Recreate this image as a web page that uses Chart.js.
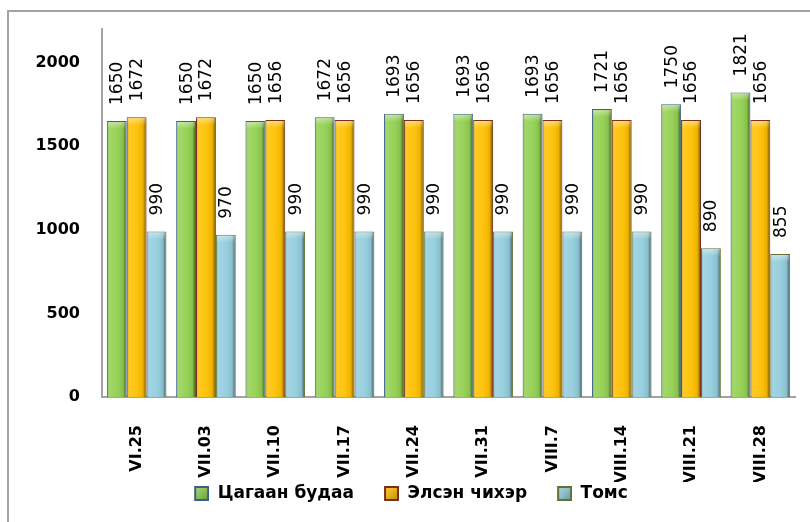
<!DOCTYPE html>
<html>
<head>
<meta charset="utf-8">
<script src="https://cdn.jsdelivr.net/npm/chart.js@4/dist/chart.umd.min.js"></script>
<style>
  body { margin: 0; background: #fff; }
  #wrap { position: relative; width: 810px; height: 522px; overflow: hidden; }
  #frame { position: absolute; left: 7px; top: 10px; width: 900px; height: 600px;
           border-top: 2px solid #a3a3a3; border-left: 2px solid #a3a3a3; }
  canvas { position: absolute; left: 0; top: 0; }
</style>
</head>
<body>
<div id="wrap">
  <div id="frame"></div>
  <canvas id="barChart" width="810" height="522"></canvas>
</div>
<script>
var labels = ["VI.25", "VII.03", "VII.10", "VII.17", "VII.24", "VII.31", "VIII.7", "VIII.14", "VIII.21", "VIII.28"];
var rice = [1650, 1650, 1650, 1672, 1693, 1693, 1693, 1721, 1750, 1821];
var sugar = [1672, 1672, 1656, 1656, 1656, 1656, 1656, 1656, 1656, 1656];
var groats = [990, 970, 990, 990, 990, 990, 990, 990, 890, 855];
var yTicks = [0, 500, 1000, 1500, 2000];

var fills = ['#92d050', '#ffc000', '#93cddd'];
var edges = ['#3b5e8c', '#7a2e1e', '#5f7332'];

// legend marker: blank gap on the left, shaded square on the right
function legendMark(fill, edge) {
    var c = document.createElement('canvas');
    c.width = 42; c.height = 15;
    var x = c.getContext('2d');
    x.fillStyle = fill;
    x.fillRect(27, 0, 15, 15);
    var g = x.createLinearGradient(27, 0, 42, 15);
    g.addColorStop(0, 'rgba(255,255,255,0.1)');
    g.addColorStop(1, 'rgba(0,0,0,0.35)');
    x.fillStyle = g;
    x.fillRect(27, 0, 15, 15);
    x.strokeStyle = edge;
    x.lineWidth = 2;
    x.strokeRect(28, 1, 13, 13);
    return c;
}
var marks = fills.map(function (f, i) { return legendMark(f, edges[i]); });

// bevel shading plus rotated value labels above each bar
var valueLabels = {
    id: 'valueLabels',
    afterDatasetsDraw: function (chart) {
        var ctx = chart.ctx;
        ctx.save();
        chart.data.datasets.forEach(function (ds, di) {
            chart.getDatasetMeta(di).data.forEach(function (bar) {
                var left = bar.x - bar.width / 2, right = bar.x + bar.width / 2;
                var g = ctx.createLinearGradient(left, 0, right, 0);
                g.addColorStop(0, 'rgba(0,0,0,0.25)');
                g.addColorStop(0.12, 'rgba(255,255,255,0.15)');
                g.addColorStop(0.5, 'rgba(255,255,255,0.05)');
                g.addColorStop(0.82, 'rgba(0,0,0,0.08)');
                g.addColorStop(1, 'rgba(0,0,0,0.6)');
                ctx.fillStyle = g;
                ctx.fillRect(left + 1, bar.y + 1, bar.width - 2, bar.base - bar.y - 1);
                var tg = ctx.createLinearGradient(0, bar.y, 0, bar.y + 8);
                tg.addColorStop(0, 'rgba(255,255,255,0.45)');
                tg.addColorStop(1, 'rgba(255,255,255,0)');
                ctx.fillStyle = tg;
                ctx.fillRect(left + 1, bar.y + 1, bar.width - 2, 7);
            });
        });
        ctx.font = '17px "DejaVu Sans"';
        ctx.fillStyle = '#000';
        ctx.textAlign = 'left';
        ctx.textBaseline = 'middle';
        chart.data.datasets.forEach(function (ds, di) {
            chart.getDatasetMeta(di).data.forEach(function (bar, i) {
                ctx.save();
                ctx.translate(bar.x + 1, bar.y - 16);
                ctx.rotate(-Math.PI / 2);
                ctx.fillText(String(ds.data[i]), 0, 0);
                ctx.restore();
            });
        });
        ctx.restore();
    }
};

var bars = document.getElementById("barChart").getContext('2d');
var myChart = new Chart(bars, {
    type: 'bar',
    data: {
        labels: labels,
        datasets: [
            { label: 'Цагаан будаа', data: rice, backgroundColor: fills[0], borderColor: edges[0], borderWidth: 1 },
            { label: 'Элсэн чихэр', data: sugar, backgroundColor: fills[1], borderColor: edges[1], borderWidth: 1 },
            { label: 'Томс', data: groats, backgroundColor: fills[2], borderColor: edges[2], borderWidth: 1 }
        ]
    },
    options: {
        responsive: false,
        animation: false,
        layout: { padding: { left: 0, right: 15, top: 29, bottom: 10 } },
        datasets: { bar: { categoryPercentage: 0.86, barPercentage: 1.0 } },
        scales: {
            x: {
                grid: { display: false },
                border: { display: true, color: '#a3a3a3', width: 2 },
                ticks: {
                    color: '#000', minRotation: 90, maxRotation: 90, padding: 20,
                    font: { family: 'DejaVu Sans', size: 16, weight: 'bold' }
                },
                afterFit: function (s) { s.height = 85; }
            },
            y: {
                min: 0, max: 2200,
                grid: { display: false },
                border: { display: true, color: '#a3a3a3', width: 2 },
                ticks: {
                    color: '#000', padding: 14,
                    font: { family: 'DejaVu Sans', size: 16, weight: 'bold' },
                    callback: function (v) { return String(v); }
                },
                afterBuildTicks: function (axis) {
                    axis.ticks = yTicks.map(function (v) { return { value: v }; });
                },
                afterFit: function (s) { s.width = 102; }
            }
        },
        plugins: {
            tooltip: { enabled: false },
            legend: {
                position: 'bottom',
                maxHeight: 30,
                labels: {
                    color: '#000', usePointStyle: true, pointStyleWidth: 42, boxHeight: 15, padding: 3,
                    font: { family: 'DejaVu Sans', size: 17, weight: 'bold' },
                    generateLabels: function (chart) {
                        var items = Chart.defaults.plugins.legend.labels.generateLabels(chart);
                        items.forEach(function (it, i) { it.pointStyle = marks[i]; });
                        return items;
                    }
                }
            }
        }
    },
    plugins: [valueLabels]
});
</script>
</body>
</html>
